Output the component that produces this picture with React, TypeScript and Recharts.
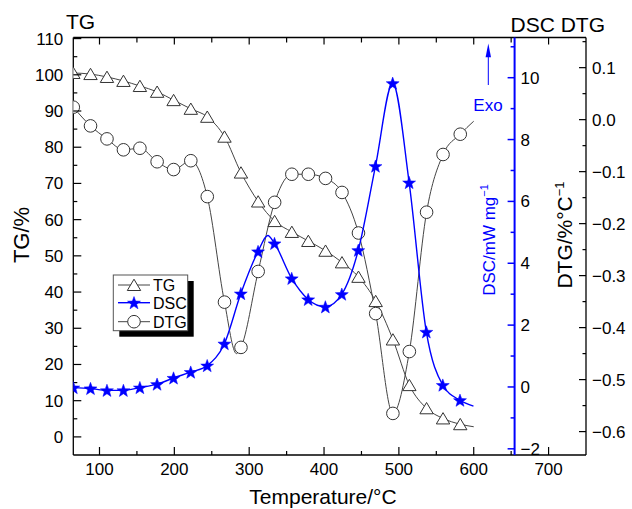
import { ComposedChart, Line, XAxis, YAxis, Legend } from "recharts"

// temperatures (°C) where the markers sit, shared by the three curves
const temps = [65, 88, 110, 132, 154, 177, 199, 222, 244, 267, 289, 312, 334, 357, 379, 402, 424, 446, 469, 492, 514, 537, 559, 582]
// TG, %
const tgValues = [100.5, 100.2, 99.4, 98.3, 96.9, 95.3, 93.0, 90.6, 88.4, 82.9, 73.0, 65.0, 59.6, 56.6, 54.1, 51.4, 48.2, 44.2, 37.5, 26.9, 14.3, 7.9, 5.1, 3.5]
// DSC, mW/mg
const dscValues = [-0.02, -0.05, -0.11, -0.11, -0.02, 0.09, 0.29, 0.48, 0.69, 1.4, 3.02, 4.38, 4.64, 3.51, 2.83, 2.59, 3.0, 4.42, 7.14, 9.82, 6.61, 1.78, 0.06, -0.43]
// DTG, %/°C
const dtgValues = [0.024, -0.012, -0.037, -0.058, -0.055, -0.081, -0.096, -0.079, -0.148, -0.351, -0.438, -0.292, -0.159, -0.105, -0.105, -0.113, -0.14, -0.218, -0.373, -0.565, -0.446, -0.178, -0.067, -0.028]

// points read off the curves between markers (no marker drawn)
const tgExtra = [[600, 2.8]]
const dscExtra = [[325, 4.9], [600, -0.62]]
const dtgExtra = [[283, -0.45], [600, -0.003]]

const xTicks = [100, 150, 200, 250, 300, 350, 400, 450, 500, 550, 600, 650, 700]
const tgTicks = [0, 5, 10, 15, 20, 25, 30, 35, 40, 45, 50, 55, 60, 65, 70, 75, 80, 85, 90, 95, 100, 105, 110]
const dscTicks = [-2, -1, 0, 1, 2, 3, 4, 5, 6, 7, 8, 9, 10, 11]
const dtgTicks = [-0.6, -0.55, -0.5, -0.45, -0.4, -0.35, -0.3, -0.25, -0.2, -0.15, -0.1, -0.05, 0, 0.05, 0.1, 0.15]

const FONT = "'Liberation Sans', Arial, Helvetica, sans-serif"
const BLUE = "#0000ff"
const INK = "#000"
const CURVE = "#444"

type Pt = { T: number; v: number; m: boolean }

function buildSeries(values: number[], extra: number[][]): Pt[] {
    const pts: Pt[] = temps.map((T, i) => ({ T, v: values[i], m: true }))
    extra.forEach(([T, v]) => pts.push({ T, v, m: false }))
    return pts.sort((a, b) => a.T - b.T)
}

const tgSeries = buildSeries(tgValues, tgExtra)
const dscSeries = buildSeries(dscValues, dscExtra)
const dtgSeries = buildSeries(dtgValues, dtgExtra)

const minus = (s: string) => s.replace("-", "\u2212")

function Triangle({ cx, cy }: { cx: number; cy: number }) {
    return (
        <polygon
            points={`${cx},${cy - 5.8} ${cx - 6.7},${cy + 5.5} ${cx + 6.7},${cy + 5.5}`}
            fill="#fff"
            stroke="#333"
            strokeWidth={1}
        />
    )
}

function Circle({ cx, cy }: { cx: number; cy: number }) {
    return <circle cx={cx} cy={cy} r={6.3} fill="#fff" stroke="#333" strokeWidth={1} />
}

function Star({ cx, cy }: { cx: number; cy: number }) {
    const R = 6.8
    const r = 2.8
    const oy = cy + 0.6
    const pts: string[] = []
    for (let i = 0; i < 10; i++) {
        const rad = i % 2 === 0 ? R : r
        const a = -Math.PI / 2 + (i * Math.PI) / 5
        pts.push(`${cx + rad * Math.cos(a)},${oy + rad * Math.sin(a)}`)
    }
    return <polygon points={pts.join(" ")} fill={BLUE} stroke={BLUE} strokeWidth={0.5} />
}

const dotWith = (Shape: any, name: string) => (props: any) =>
    props.payload && props.payload.m ? (
        <Shape key={`${name}-${props.index}`} cx={props.cx} cy={props.cy} />
    ) : (
        <g key={`${name}-${props.index}`} />
    )

// ticks point inward; labels sit outside
const bottomTick = (p: any) => {
    const v = p.payload.value
    const major = v % 100 === 0
    return (
        <g>
            <line x1={p.x} x2={p.x} y1={p.y} y2={p.y - (major ? 8 : 4)} stroke={INK} strokeWidth={1.2} />
            {major && (
                <text x={p.x} y={p.y + 20} textAnchor="middle" fontSize={17} fontFamily={FONT} fill={INK}>
                    {v}
                </text>
            )}
        </g>
    )
}

const topTick = (p: any) => {
    const v = p.payload.value
    const major = v % 100 === 0
    return <line x1={p.x} x2={p.x} y1={p.y} y2={p.y + (major ? 7 : 5)} stroke={INK} strokeWidth={1.2} />
}

const tgTick = (p: any) => {
    const v = p.payload.value
    const major = v % 10 === 0
    return (
        <g>
            <line x1={p.x} x2={p.x + (major ? 8 : 4)} y1={p.y} y2={p.y} stroke={INK} strokeWidth={1.2} />
            {major && (
                <text x={p.x - 10} y={p.y + 6} textAnchor="end" fontSize={17} fontFamily={FONT} fill={INK}>
                    {v}
                </text>
            )}
        </g>
    )
}

const dtgTick = (p: any) => {
    const v = p.payload.value
    const major = Math.abs(v * 10 - Math.round(v * 10)) < 1e-6
    return (
        <g>
            <line x1={p.x} x2={p.x - (major ? 7 : 3.5)} y1={p.y} y2={p.y} stroke={INK} strokeWidth={1.2} />
            {major && (
                <text x={p.x + 6} y={p.y + 6} textAnchor="start" fontSize={17} fontFamily={FONT} fill={INK}>
                    {minus((Math.abs(v) < 1e-9 ? 0 : v).toFixed(1))}
                </text>
            )}
        </g>
    )
}

const dscTick = (p: any) => {
    const v = p.payload.value
    const major = v % 2 === 0
    return (
        <g>
            <line x1={p.x} x2={p.x - (major ? 7 : 4)} y1={p.y} y2={p.y} stroke={BLUE} strokeWidth={1.5} />
            {major && (
                <text x={p.x + 6} y={p.y + 6} textAnchor="start" fontSize={17} fontFamily={FONT} fill={INK}>
                    {minus(String(v))}
                </text>
            )}
        </g>
    )
}

const legendRows = [
    { name: "TG", color: CURVE, Shape: Triangle },
    { name: "DSC", color: BLUE, Shape: Star },
    { name: "DTG", color: CURVE, Shape: Circle },
]

const renderLegend = () => (
    <svg width={100} height={75} style={{ overflow: "visible", display: "block" }}>
        <rect x={11.3} y={11} width={74.4} height={55.7} fill="#000" />
        <rect x={5.3} y={5} width={74.4} height={55.7} fill="#fff" stroke="#555" strokeWidth={1} />
        {legendRows.map((r, i) => {
            const y = [15, 32.7, 51.7][i]
            return (
                <g key={r.name}>
                    <line x1={10} x2={42} y1={y} y2={y} stroke={r.color} strokeWidth={r.color === BLUE ? 1.4 : 1} />
                    <r.Shape cx={26} cy={y} />
                    <text x={45} y={y + 6} fontSize={16} fontFamily={FONT} fill={INK}>
                        {r.name}
                    </text>
                </g>
            )
        })}
    </svg>
)

const layer: React.CSSProperties = { position: "absolute", left: 0, top: 0 }

export default function App() {
    return (
        <div style={{ position: "absolute", left: 0, top: 0, width: 632, height: 509, background: "#fff", fontFamily: FONT }}>
            <div style={layer}>
                <ComposedChart width={632} height={509} margin={{ top: 0, right: 0, bottom: 0, left: 0 }}>
                    <XAxis
                        xAxisId="b"
                        type="number"
                        dataKey="T"
                        domain={[65, 750]}
                        ticks={xTicks}
                        interval={0}
                        allowDataOverflow
                        orientation="bottom"
                        height={54}
                        tickSize={0}
                        tickMargin={0}
                        tickLine={false}
                        axisLine={{ stroke: INK, strokeWidth: 1.3 }}
                        tick={bottomTick}
                    />
                    <XAxis
                        xAxisId="t"
                        type="number"
                        dataKey="T"
                        domain={[65, 750]}
                        ticks={xTicks}
                        interval={0}
                        allowDataOverflow
                        orientation="top"
                        height={37.5}
                        tickSize={0}
                        tickMargin={0}
                        tickLine={false}
                        axisLine={{ stroke: INK, strokeWidth: 1.3 }}
                        tick={topTick}
                    />
                    <YAxis
                        yAxisId="tg"
                        orientation="left"
                        type="number"
                        domain={[-5, 110.3]}
                        ticks={tgTicks}
                        interval={0}
                        allowDataOverflow
                        width={73.3}
                        tickSize={0}
                        tickMargin={0}
                        tickLine={false}
                        axisLine={{ stroke: INK, strokeWidth: 1.3 }}
                        tick={tgTick}
                    />
                    <YAxis
                        yAxisId="dtg"
                        orientation="right"
                        type="number"
                        domain={[-0.645, 0.158]}
                        ticks={dtgTicks}
                        interval={0}
                        allowDataOverflow
                        width={46}
                        tickSize={0}
                        tickMargin={0}
                        tickLine={false}
                        axisLine={{ stroke: INK, strokeWidth: 1.3 }}
                        tick={dtgTick}
                    />
                    <Line
                        xAxisId="b"
                        yAxisId="tg"
                        data={tgSeries}
                        dataKey="v"
                        name="TG"
                        type="monotone"
                        stroke={CURVE}
                        strokeWidth={1}
                        dot={dotWith(Triangle, "tg")}
                        activeDot={false}
                        isAnimationActive={false}
                    />
                    <Line
                        xAxisId="b"
                        yAxisId="dtg"
                        data={dtgSeries}
                        dataKey="v"
                        name="DTG"
                        type="monotone"
                        stroke={CURVE}
                        strokeWidth={1}
                        dot={dotWith(Circle, "dtg")}
                        activeDot={false}
                        isAnimationActive={false}
                    />
                    <Legend
                        layout="horizontal"
                        verticalAlign="middle"
                        align="center"
                        content={renderLegend}
                        wrapperStyle={{ position: "absolute", left: 108, top: 270, width: 100, height: 75 }}
                    />
                </ComposedChart>
            </div>
            <div style={layer}>
                <ComposedChart width={632} height={509} margin={{ top: 37.5, right: 0, bottom: 54, left: 73.3 }}>
                    <XAxis xAxisId="b" type="number" dataKey="T" domain={[65, 655]} allowDataOverflow hide />
                    <YAxis
                        yAxisId="dsc"
                        orientation="right"
                        type="number"
                        domain={[-2.2, 11.3]}
                        ticks={dscTicks}
                        interval={0}
                        allowDataOverflow
                        width={117.4}
                        tickSize={0}
                        tickMargin={0}
                        tickLine={false}
                        axisLine={{ stroke: BLUE, strokeWidth: 2 }}
                        tick={dscTick}
                    />
                    <Line
                        xAxisId="b"
                        yAxisId="dsc"
                        data={dscSeries}
                        dataKey="v"
                        name="DSC"
                        type="monotone"
                        stroke={BLUE}
                        strokeWidth={1.4}
                        dot={dotWith(Star, "dsc")}
                        activeDot={false}
                        isAnimationActive={false}
                    />
                </ComposedChart>
            </div>
            <svg width={632} height={509} style={{ ...layer, pointerEvents: "none" }} fontFamily={FONT}>
                <text x={66} y={29.3} fontSize={21} fill={INK}>
                    TG
                </text>
                <text x={510.5} y={31.5} fontSize={21} fill={INK}>
                    DSC DTG
                </text>
                <text transform="translate(29,235) rotate(-90)" textAnchor="middle" fontSize={22} fill={INK}>
                    TG/%
                </text>
                <text x={323} y={503.5} textAnchor="middle" fontSize={21} fill={INK}>
                    Temperature/°C
                </text>
                <text transform="translate(494.5,240) rotate(-90)" textAnchor="middle" fontSize={17} fill={BLUE}>
                    DSC/mW mg
                    <tspan dy={-7} fontSize={11}>
                        {"\u22121"}
                    </tspan>
                </text>
                <text transform="translate(571.7,235) rotate(-90)" textAnchor="middle" fontSize={21} fill={INK}>
                    DTG/%°C
                    <tspan dy={-8} fontSize={13}>
                        {"\u22121"}
                    </tspan>
                </text>
                <line x1={488.3} x2={488.3} y1={85} y2={55} stroke={BLUE} strokeWidth={1} />
                <polygon points="488.3,43.5 485.6,57.3 491,57.3" fill={BLUE} />
                <text x={488} y={110.7} textAnchor="middle" fontSize={17} fill={BLUE}>
                    Exo
                </text>
            </svg>
        </div>
    )
}
